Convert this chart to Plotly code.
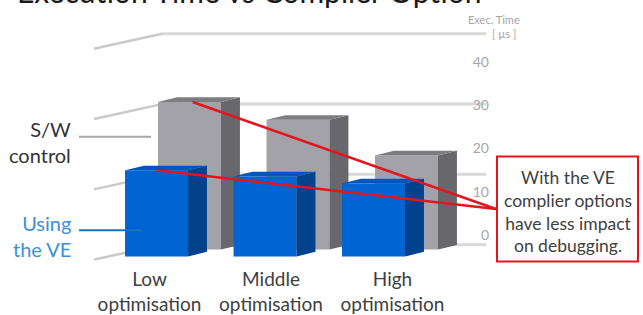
import plotly.graph_objects as go

# ---------------- data ----------------
categories = ["Low<br>optimisation", "Middle<br>optimisation", "High<br>optimisation"]
sw_control = [31.5, 27.7, 20.1]     # S/W control (grey, back row)
using_ve = [18.4, 17.1, 15.6]       # Using the VE (blue, front row)
tick_values = [0, 10, 20, 30, 40]
grid_values = [0, 15, 30, 45]

# ---------------- style / geometry ----------------
W, H = 643, 315
FONT = "Lato"
BAR_W = 0.58
GREY_SHIFT = 0.304       # back row shift to the right
GREY_FLOOR = -1.06
BLUE_FLOOR = -2.54
DX, DY = 0.175, 1.0      # 3-D depth offset
XR = [-1.4424, 4.4839]
YR = [-14.376, 52.22]

GREY_FRONT, GREY_TOP, GREY_SIDE = "#a2a2a8", "#7c7c81", "#68686c"
BLUE_FRONT, BLUE_TOP, BLUE_SIDE = "#0064d2", "#0056bd", "#00428c"
RED = "#e3161f"

fig = go.Figure()


def add_row(xs, vals, floor, front, top, side, xa, ya, name):
    fig.add_trace(go.Bar(x=xs, y=vals, base=[floor] * len(vals), width=BAR_W,
                         marker=dict(color=front, line=dict(width=0)),
                         xaxis=xa, yaxis=ya, name=name, hoverinfo="skip"))
    for x, v in zip(xs, vals):
        l, r = x - BAR_W / 2, x + BAR_W / 2
        t = floor + v
        fig.add_trace(go.Scatter(x=[r, r + DX, r + DX, r, r], y=[floor, floor + DY, t + DY, t, floor],
                                 fill="toself", fillcolor=side, mode="lines", line=dict(width=0),
                                 xaxis=xa, yaxis=ya, hoverinfo="skip", showlegend=False))
        fig.add_trace(go.Scatter(x=[l, r, r + DX, l + DX, l], y=[t, t, t + DY, t + DY, t],
                                 fill="toself", fillcolor=top, mode="lines", line=dict(width=0),
                                 xaxis=xa, yaxis=ya, hoverinfo="skip", showlegend=False))


idx = list(range(len(categories)))
grey_x = [i + GREY_SHIFT for i in idx]
add_row(grey_x, sw_control, GREY_FLOOR, GREY_FRONT, GREY_TOP, GREY_SIDE, "x", "y", "S/W control")
add_row(idx, using_ve, BLUE_FLOOR, BLUE_FRONT, BLUE_TOP, BLUE_SIDE, "x3", "y3", "Using the VE")

# invisible trace for the label axes
fig.add_trace(go.Scatter(x=idx, y=[0] * len(idx), mode="markers", marker=dict(opacity=0),
                         xaxis="x2", yaxis="y2", hoverinfo="skip", showlegend=False))

# ---------------- gridlines (back wall + left wall) ----------------
GX0, GX1, GX_WALL = 0.05, 3.04, -0.576
WALL_RISE = 3.2
for g in grid_values:
    fig.add_shape(type="line", x0=GX0, x1=GX1, y0=g, y1=g, xref="x", yref="y",
                  line=dict(color="#d9d9d9", width=3), layer="below")
    fig.add_shape(type="line", x0=GX_WALL, x1=GX0, y0=g - WALL_RISE, y1=g, xref="x", yref="y",
                  line=dict(color="#c9c9c9", width=2.5), layer="below")

# ---------------- callout ----------------
END_X, END_Y = 3.129, 7.61
fig.add_shape(type="line", x0=grey_x[0] + 0.03, y0=GREY_FLOOR + sw_control[0], x1=END_X, y1=END_Y,
              xref="x", yref="y", line=dict(color=RED, width=2.5))
fig.add_shape(type="line", x0=idx[0], y0=BLUE_FLOOR + using_ve[0], x1=END_X, y1=END_Y,
              xref="x", yref="y", line=dict(color=RED, width=2.5))
fig.add_shape(type="rect", x0=497 / W, x1=638 / W, y0=1 - 264 / H, y1=1 - 158 / H,
              xref="paper", yref="paper", line=dict(color=RED, width=2), fillcolor="white")
fig.add_annotation(text="With the VE<br>complier options<br>have less impact<br>on debugging.",
                   x=567.5 / W, y=1 - 213.5 / H, xref="paper", yref="paper", showarrow=False,
                   xanchor="center", yanchor="middle",
                   font=dict(family=FONT, size=17.5, color="#404040"), align="center")

# ---------------- series labels ----------------
fig.add_shape(type="line", x0=79 / W, x1=151 / W, y0=1 - 138 / H, y1=1 - 138 / H,
              xref="paper", yref="paper", line=dict(color="#a6a6a6", width=2))
fig.add_shape(type="line", x0=79 / W, x1=142 / W, y0=1 - 232.5 / H, y1=1 - 232.5 / H,
              xref="paper", yref="paper", line=dict(color="#1f6fbf", width=2))
fig.add_annotation(text="S/W<br>control", x=73 / W, y=1 - 143.5 / H, xref="paper", yref="paper",
                   xanchor="right", yanchor="middle", align="right", showarrow=False,
                   font=dict(family=FONT, size=20, color="#333333"))
fig.add_annotation(text="Using<br>the VE", x=73 / W, y=1 - 238.5 / H, xref="paper", yref="paper",
                   xanchor="right", yanchor="middle", align="right", showarrow=False,
                   font=dict(family=FONT, size=20, color="#3c8fdc"))

# ---------------- axis title & chart title ----------------
fig.add_annotation(text="Exec. Time", x=522 / W, y=1 - 20 / H, xref="paper", yref="paper",
                   xanchor="right", yanchor="middle", showarrow=False,
                   font=dict(family=FONT, size=11, color="#a6a6a6"))
fig.add_annotation(text="[ µs ]", x=518 / W, y=1 - 34 / H, xref="paper", yref="paper",
                   xanchor="right", yanchor="middle", showarrow=False,
                   font=dict(family=FONT, size=11, color="#a6a6a6"))
fig.add_annotation(text="Execution Time vs Compiler Option", x=15 / W, y=1 + 9 / H,
                   xref="paper", yref="paper", xanchor="left", yanchor="middle", showarrow=False,
                   font=dict(family=FONT, size=30, color="#1a1a1a"))

hidden = dict(visible=False, fixedrange=True)
fig.update_layout(
    width=W, height=H, autosize=False,
    margin=dict(l=0, r=0, t=0, b=0),
    paper_bgcolor="white", plot_bgcolor="rgba(0,0,0,0)",
    showlegend=False, barmode="overlay",
    xaxis=dict(range=XR, **hidden),
    yaxis=dict(range=YR, **hidden),
    xaxis3=dict(range=XR, overlaying="x", **hidden),
    yaxis3=dict(range=YR, overlaying="y", **hidden),
    xaxis2=dict(range=[-1.2305, 4.0617], overlaying="x", anchor="free", position=(H - 269) / H,
                side="bottom", tickvals=idx, ticktext=categories, showgrid=False, zeroline=False,
                showline=False, ticks="", tickfont=dict(family=FONT, size=19, color="#404040"),
                fixedrange=True),
    yaxis2=dict(range=[-17.93, 54.48], overlaying="y", anchor="free", position=489 / W,
                side="left", tickvals=tick_values, showgrid=False, zeroline=False, showline=False,
                ticks="", tickfont=dict(family=FONT, size=14, color="#a6a6a6"), fixedrange=True),
)

fig.write_html("out.html", config={"displayModeBar": False},
               post_script="document.body.style.margin='0';document.body.style.overflow='hidden';")
